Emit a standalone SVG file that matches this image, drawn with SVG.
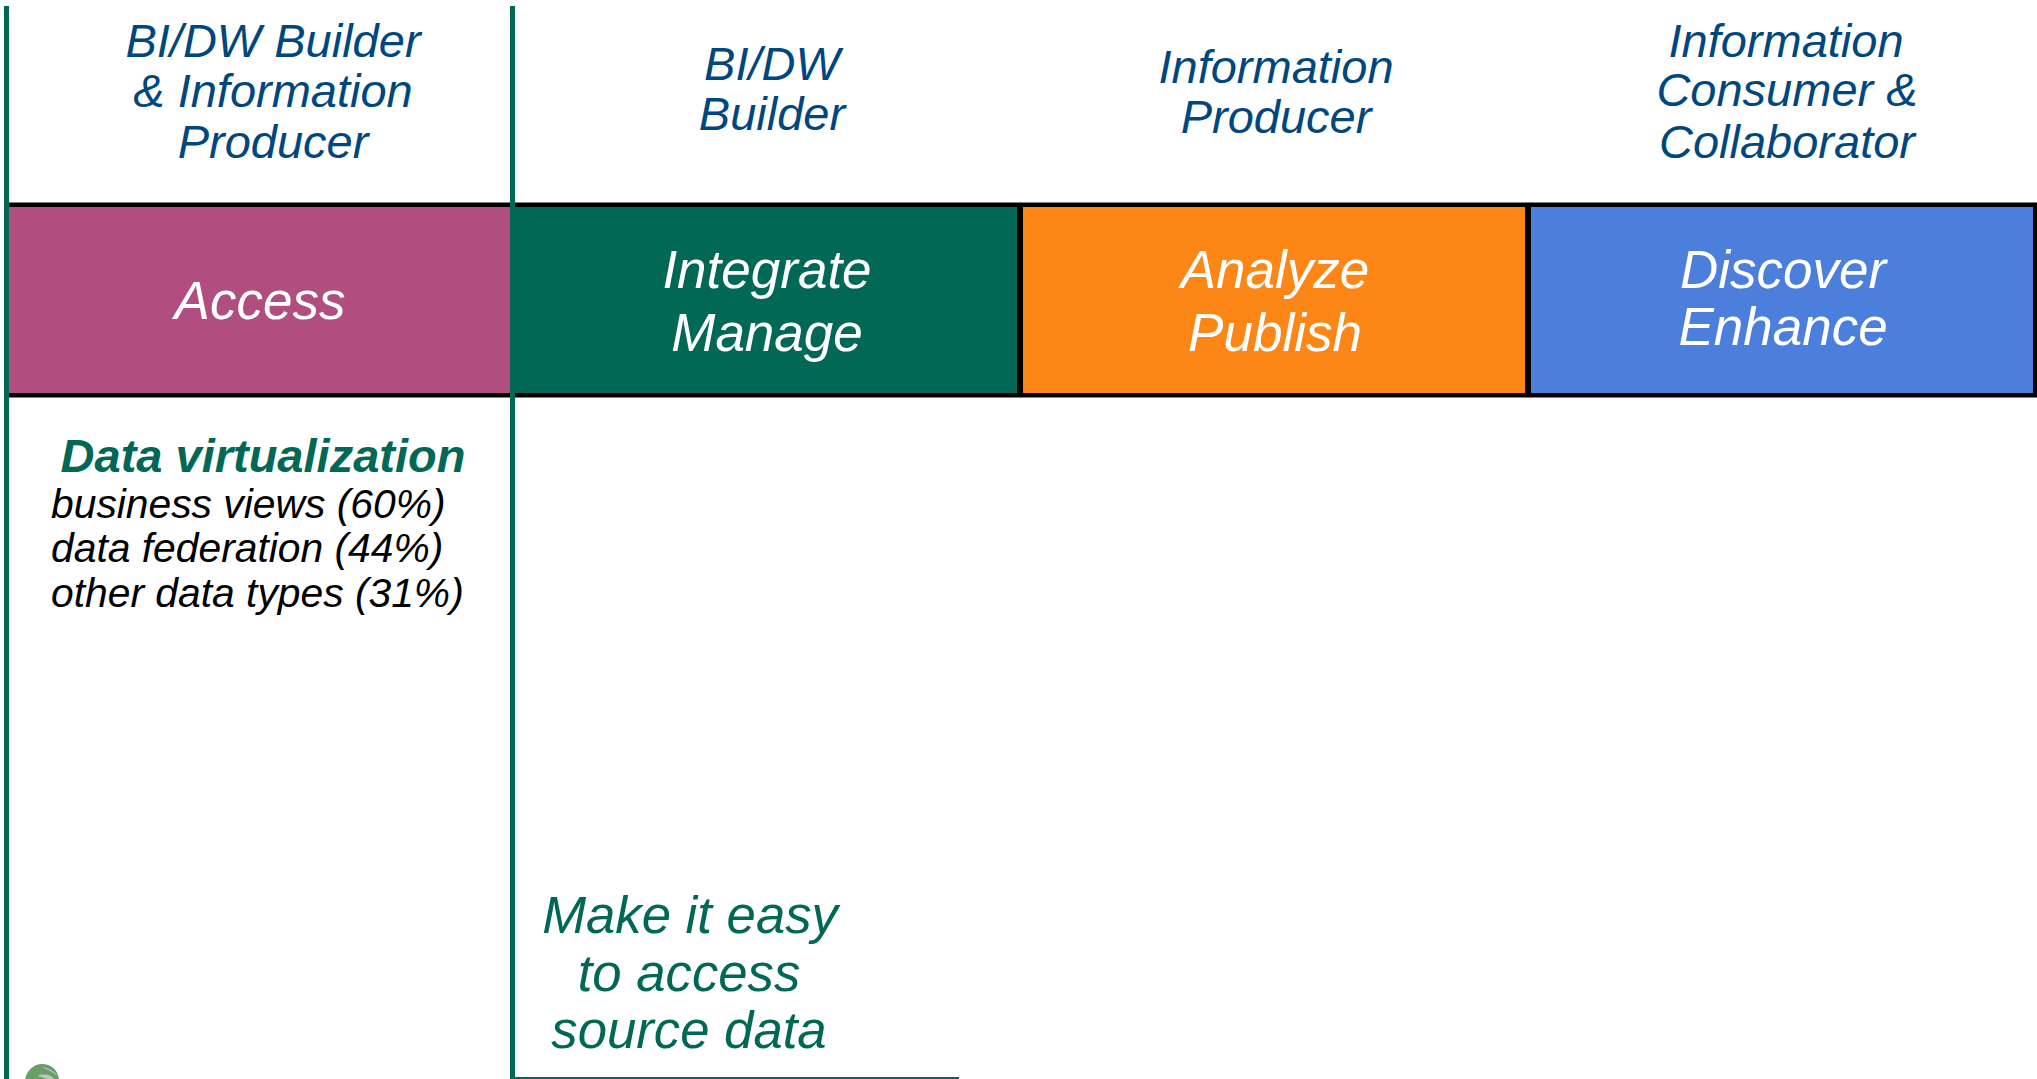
<svg xmlns="http://www.w3.org/2000/svg" width="2037" height="1079" viewBox="0 0 2037 1079">
<style>
text{font-family:"Liberation Sans",Arial,sans-serif;font-style:italic;text-anchor:middle}
.role{font-size:47px;fill:#00477f}
.band{font-size:53px;fill:#fff}
.item{font-size:40.8px;fill:#000;text-anchor:start}
.note{font-size:52.7px;fill:#006854}
.rule{fill:#006854}
</style>
<rect width="2037" height="1079" fill="#fff"/>
<g id="roles">
<text class="role" x="273" y="57">BI/DW Builder</text>
<text class="role" x="273" y="107">&amp; Information</text>
<text class="role" x="273" y="158">Producer</text>
<text class="role" x="772" y="80">BI/DW</text>
<text class="role" x="772" y="130">Builder</text>
<text class="role" x="1276" y="83">Information</text>
<text class="role" x="1276" y="133">Producer</text>
<text class="role" x="1786" y="57">Information</text>
<text class="role" x="1787" y="106">Consumer &amp;</text>
<text class="role" x="1787" y="158">Collaborator</text>
</g>
<g id="band-frame">
<rect x="6" y="202" width="2031" height="196" fill="#808080"/>
<rect x="6" y="203" width="2031" height="194" fill="#000"/>
</g>
<g id="access"><rect x="9" y="207" width="501" height="186" fill="#b04f7f"/><text class="band" x="260" y="319">Access</text></g>
<g id="integrate"><rect x="515" y="207" width="502" height="186" fill="#006854"/><text class="band" x="767" y="288">Integrate</text><text class="band" x="767" y="351">Manage</text></g>
<g id="analyze"><rect x="1023" y="207" width="502" height="186" fill="#fd8716"/><text class="band" x="1275" y="288">Analyze</text><text class="band" x="1275" y="351">Publish</text></g>
<g id="discover"><rect x="1531" y="207" width="502" height="186" fill="#4c7edb"/><text class="band" x="1783" y="288">Discover</text><text class="band" x="1783" y="345">Enhance</text></g>
<g id="rules">
<rect class="rule" x="4" y="6" width="5" height="1073"/>
<rect class="rule" x="510" y="6" width="5" height="1073"/>
<rect class="rule" x="510" y="1077" width="449" height="2"/>
</g>
<g id="virtualization">
<text x="263" y="472" font-size="47" font-weight="700" fill="#006854">Data virtualization</text>
<text class="item" x="51" y="518">business views (60%)</text>
<text class="item" x="51" y="562">data federation (44%)</text>
<text class="item" x="51" y="607">other data types (31%)</text>
</g>
<g id="note">
<text class="note" x="690" y="933">Make it easy</text>
<text class="note" x="689" y="991">to access</text>
<text class="note" x="689" y="1048">source data</text>
</g>
<g id="logo">
<path d="M25 1079C27 1071 33 1064 42 1064C52 1064 58 1071 59 1079Z" fill="#6a9e68"/>
<path d="M41 1067Q52 1068 58 1076Q50 1070 41 1067ZM37 1076Q48 1072 54 1079H47Q43 1077 37 1076Z" fill="#c4c4c4"/>
</g>
</svg>
